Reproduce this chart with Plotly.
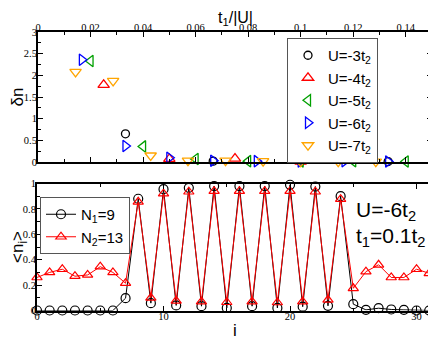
import plotly.graph_objects as go

# top panel: delta n vs t1/|U|
x_u3 = [0.0333, 0.0667, 0.1, 0.1333]
y_u3 = [0.65, 0.02, 0.01, 0.01]
x_u4 = [0.025, 0.05, 0.075, 0.1, 0.125]
y_u4 = [1.78, 0.07, 0.08, 0.01, 0.03]
x_u5 = [0.02, 0.04, 0.06, 0.08, 0.1, 0.12, 0.14]
y_u5 = [2.33, 0.36, 0.07, 0.02, 0.01, 0.02, 0.01]
x_u6 = [0.0167, 0.0333, 0.05, 0.0667, 0.0833, 0.1, 0.1167, 0.1333, 0.15]
y_u6 = [2.36, 0.37, 0.1, 0.03, 0.02, 0.01, 0.02, 0.01, 0.01]
x_u7 = [0.0143, 0.0286, 0.0429, 0.0571, 0.0714, 0.0857, 0.1, 0.1143, 0.1286]
y_u7 = [2.08, 1.87, 0.15, 0.03, 0.03, 0.02, 0.01, 0.01, 0.01]

# bottom panel: <n_i> vs site i
sites = list(range(32))
n_N9 = [0, 0, 0, 0, 0, 0, 0, 0.097, 0.88, 0.058, 0.955, 0.04, 0.966, 0.034, 0.98, 0.02,
        0.98, 0.034, 0.98, 0.02, 0.99, 0.03, 0.976, 0.037, 0.9, 0.05, 0.005, 0.018, 0.008,
        0.005, 0, 0]
n_N13 = [0.26, 0.3, 0.325, 0.27, 0.28, 0.345, 0.3, 0.215, 0.856, 0.1, 0.92, 0.076, 0.935,
         0.07, 0.94, 0.065, 0.94, 0.07, 0.94, 0.063, 0.94, 0.07, 0.935, 0.084, 0.877, 0.175,
         0.306, 0.36, 0.26, 0.26, 0.325, 0.293]

# page body has an 8px margin, so the figure is drawn 8px smaller and positions shifted
OFF = 8
W, H = 436 - OFF, 340 - OFF
def fx(s):
    return (s - OFF) / W
def fy(s):
    return 1 - (s - OFF) / H

fig = go.Figure()

top = [
    (x_u3, y_u3, "U=-3t<sub>2</sub>", "black", "circle-open", 8),
    (x_u4, y_u4, "U=-4t<sub>2</sub>", "red", "triangle-up-open", 10),
    (x_u5, y_u5, "U=-5t<sub>2</sub>", "#00a000", "triangle-left-open", 10),
    (x_u6, y_u6, "U=-6t<sub>2</sub>", "blue", "triangle-right-open", 10),
    (x_u7, y_u7, "U=-7t<sub>2</sub>", "orange", "triangle-down-open", 10),
]
for xs, ys, name, col, sym, sz in top:
    fig.add_trace(go.Scatter(x=xs, y=ys, mode="markers", name=name,
                             marker=dict(symbol=sym, size=sz, color=col, line=dict(width=1.3, color=col)),
                             xaxis="x", yaxis="y", legend="legend", cliponaxis=False))

fig.add_trace(go.Scatter(x=sites, y=n_N9, mode="lines+markers", name="N<sub>1</sub>=9",
                         line=dict(color="black", width=1),
                         marker=dict(symbol="circle-open", size=9, color="black", line=dict(width=1.2)),
                         xaxis="x2", yaxis="y2", legend="legend2", cliponaxis=False))
fig.add_trace(go.Scatter(x=sites, y=n_N13, mode="lines+markers", name="N<sub>2</sub>=13",
                         line=dict(color="red", width=1),
                         marker=dict(symbol="triangle-up-open", size=9, color="red", line=dict(width=1.2)),
                         xaxis="x2", yaxis="y2", legend="legend2", cliponaxis=False))

tickfont = dict(family="Liberation Serif", size=10.5, color="black")
titlefont = dict(family="Liberation Sans", size=17, color="black")
ax = dict(showline=True, linewidth=2, linecolor="black", mirror="allticks", ticks="inside",
          ticklen=5, tickcolor="black", showgrid=False, zeroline=False, tickfont=tickfont,
          automargin=False)

fig.update_layout(
    width=W, height=H, margin=dict(l=0, r=0, t=0, b=0),
    plot_bgcolor="white", paper_bgcolor="white",
    xaxis=dict(ax, domain=[fx(38), fx(432)], range=[0, 0.15], side="top", dtick=0.02,
               tickformat="~g", anchor="y", ticklabelstandoff=-5,
               minor=dict(ticks="inside", ticklen=3, dtick=0.01, tickcolor="black")),
    yaxis=dict(ax, domain=[fy(162), fy(32)], range=[0, 3], dtick=0.5, anchor="x",
               ticklabelstandoff=-3,
               minor=dict(ticks="inside", ticklen=3, dtick=0.25, tickcolor="black"),
               title=dict(text="δn", font=titlefont, standoff=10)),
    xaxis2=dict(ax, domain=[fx(37), fx(433)], range=[0, 31.3], dtick=10, anchor="y2",
                ticklabelstandoff=-5,
                minor=dict(ticks="inside", ticklen=3, dtick=5, tickcolor="black"),
                title=dict(text="i", font=titlefont, standoff=4)),
    yaxis2=dict(ax, domain=[fy(310.5), fy(183.5)], range=[0, 1], dtick=0.2, anchor="x2",
                ticklabelstandoff=-3,
                minor=dict(ticks="inside", ticklen=3, dtick=0.1, tickcolor="black"),
                title=dict(text="<n<sub>i</sub>>", font=titlefont, standoff=10)),
    legend=dict(x=fx(287), y=fy(38), xanchor="left", yanchor="top",
                bgcolor="white", bordercolor="#555", borderwidth=1,
                font=dict(family="Liberation Sans", size=15, color="black"),
                tracegroupgap=0, itemwidth=30),
    legend2=dict(x=fx(40), y=fy(197), xanchor="left", yanchor="top",
                 bgcolor="white", bordercolor="#555", borderwidth=1,
                 font=dict(family="Liberation Sans", size=15, color="black"),
                 tracegroupgap=0, itemwidth=30),
    showlegend=True,
)

# top axis title as annotation (axis title ignores standoff without automargin)
fig.add_annotation(x=fx(236), y=1, xref="paper", yref="paper", xanchor="center",
                   yanchor="top", yshift=1, showarrow=False, text="t<sub>1</sub>/|U|",
                   font=dict(family="Liberation Sans", size=16, color="black"))
fig.add_annotation(x=fx(354), y=fy(211), xref="paper", yref="paper", xanchor="left",
                   yanchor="middle", showarrow=False, text="U=-6t<sub>2</sub>",
                   font=dict(family="Liberation Sans", size=21, color="black"))
fig.add_annotation(x=fx(354), y=fy(237), xref="paper", yref="paper", xanchor="left",
                   yanchor="middle", showarrow=False, text="t<sub>1</sub>=0.1t<sub>2</sub>",
                   font=dict(family="Liberation Sans", size=21, color="black"))

fig.write_html("out.html")
